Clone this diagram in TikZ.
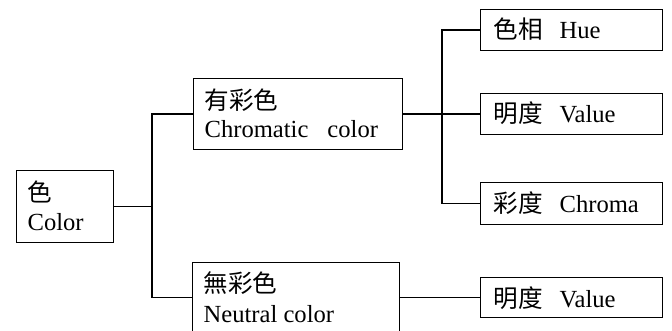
\documentclass[tikz,border=0pt]{standalone}
\usepackage{fontspec}
\setmainfont{Liberation Serif}
\newfontfamily\cjk{Noto Sans CJK TC}
\begin{document}
\begin{tikzpicture}[x=1pt,y=-1pt,
  line width=1.2pt,
  box/.style={draw, rectangle, inner sep=0pt, line width=1.2pt},
  txt/.style={inner sep=0pt, font=\fontsize{24.6}{28}\selectfont},
  cj/.style={txt, anchor=west, font=\fontsize{24.6}{28}\selectfont\cjk},
  lat/.style={txt, anchor=base west}]
\useasboundingbox (0,0) rectangle (672,331);
\clip (0,0) rectangle (672,331);

% boxes
\node[box, minimum width=97pt,  minimum height=72pt, anchor=north west] (color)   at (16,170)  {};
\node[box, minimum width=209pt, minimum height=71pt, anchor=north west] (chrom)   at (193,78)  {};
\node[box, minimum width=207pt, minimum height=70pt, anchor=north west] (neutral) at (192,262) {};
\node[box, minimum width=182pt, minimum height=41pt, anchor=north west] (hue)     at (480,9)   {};
\node[box, minimum width=182pt, minimum height=41pt, anchor=north west] (val)     at (480,93)  {};
\node[box, minimum width=182pt, minimum height=42pt, anchor=north west] (chroma)  at (480,182) {};
\node[box, minimum width=182pt, minimum height=40pt, anchor=north west] (valn)    at (480,277) {};

% box texts
\node[cj]  (tcolor1) at (27,192)  {色};
\node[lat] (tcolor2) at (27,230)  {Color};
\node[cj]  (tchrom1) at (204,100) {有彩色};
\node[lat] (tchrom2) at (204,138) {Chromatic\hspace{19pt}color};
\node[cj]  (tneut1)  at (203,283) {無彩色};
\node[lat] (tneut2)  at (203,322) {Neutral color};
\node[lat] (thue)    at (493,39)  {\makebox[66pt][l]{\cjk 色相}Hue};
\node[lat] (tval)    at (493,123) {\makebox[66pt][l]{\cjk 明度}Value};
\node[lat] (tchroma) at (493,213) {\makebox[66pt][l]{\cjk 彩度}Chroma};
\node[lat] (tvaln)   at (493,307) {\makebox[66pt][l]{\cjk 明度}Value};

% junctions of the bracket connectors
\coordinate (splitA) at (152,0);
\coordinate (splitB) at (442,0);

% connectors
\draw (color.east) -- (color.east -| splitA);
\draw (chrom.west) -- (chrom.west -| splitA) -- (neutral.west -| splitA) -- (neutral.west);
\draw (chrom.east) -- (val.west);
\draw (hue.west) -- (hue.west -| splitB) -- (chroma.west -| splitB) -- (chroma.west);
\draw (neutral.east) -- (valn.west);
\end{tikzpicture}
\end{document}
